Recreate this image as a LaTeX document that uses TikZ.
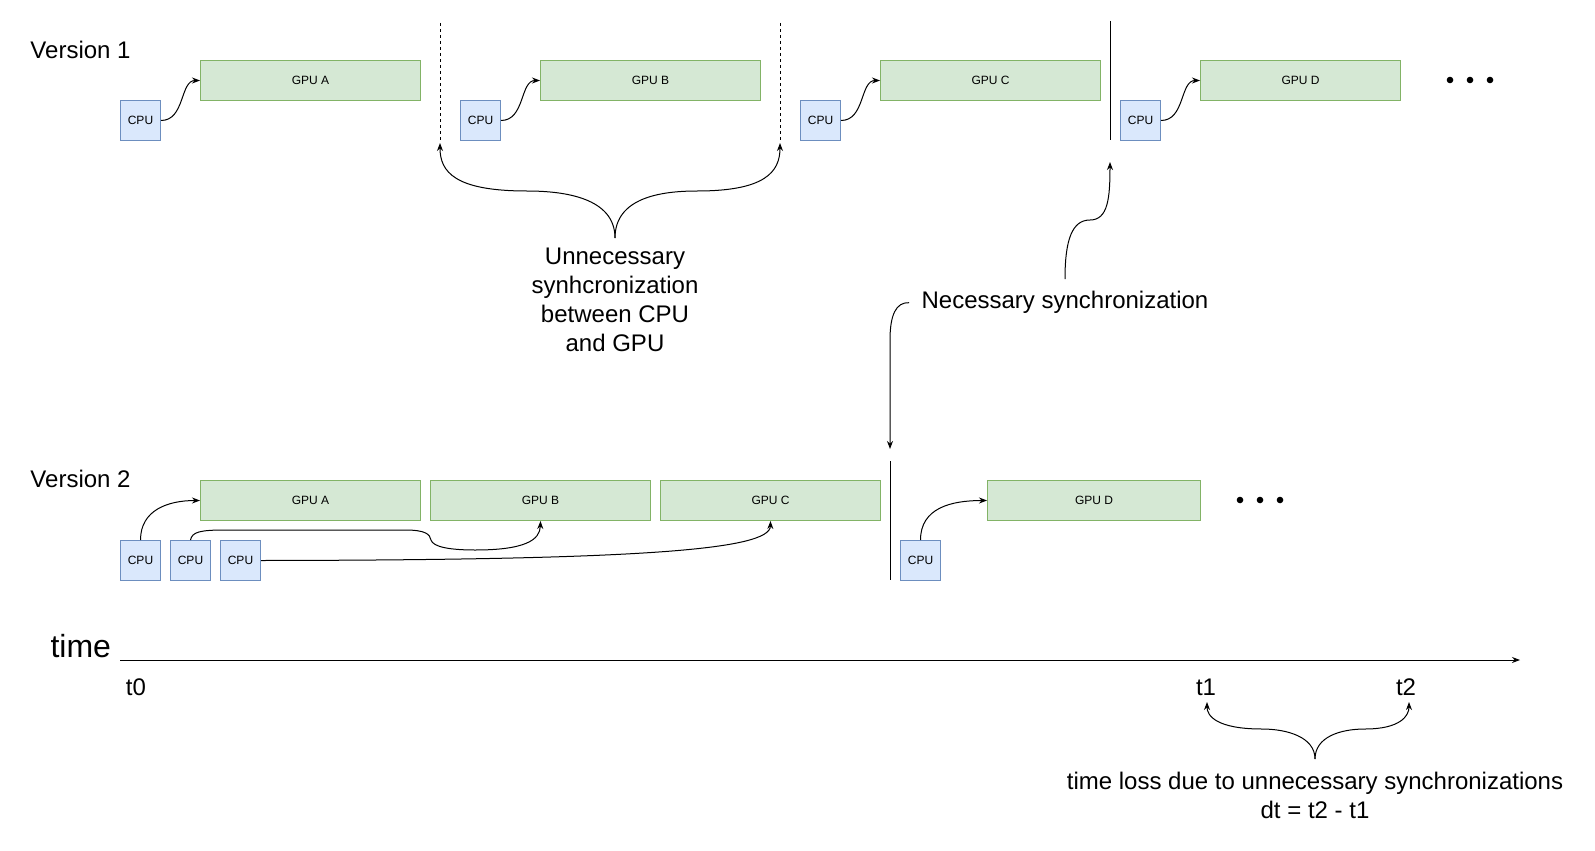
\documentclass[tikz,border=0pt]{standalone}
\usepackage{fontspec}
\setmainfont{Liberation Sans}
\usetikzlibrary{arrows.meta}
\definecolor{cpufill}{HTML}{DAE8FC}
\definecolor{cpuline}{HTML}{6C8EBF}
\definecolor{gpufill}{HTML}{D5E8D4}
\definecolor{gpuline}{HTML}{82B366}
\begin{document}
\begin{tikzpicture}[x=1pt,y=-1pt,line width=1pt,
  cpu/.style={draw=cpuline,fill=cpufill,minimum width=40pt,minimum height=40pt,inner sep=0pt,anchor=north west,font=\fontsize{12}{14}\selectfont},
  gpu/.style={draw=gpuline,fill=gpufill,minimum width=220pt,minimum height=40pt,inner sep=0pt,anchor=north west,font=\fontsize{12}{14}\selectfont},
  conn/.style={-{Stealth[length=8pt,width=6pt]},line width=1pt},
  lbl/.style={font=\fontsize{24}{29}\selectfont,align=center,inner sep=0pt},
  sepline/.style={line width=1pt},
  dotted sep/.style={line width=1pt,dash pattern=on 3pt off 3pt},
  dotmark/.style={fill=black,draw=none}]
\useasboundingbox (0,0) rectangle (1595,851);

% Version 1
\node[lbl,anchor=west] (v1) at (30,50) {Version 1};
\node[cpu] (c1a) at (120,100) {CPU};
\node[gpu] (g1a) at (200,60) {GPU A};
\node[cpu] (c1b) at (460,100) {CPU};
\node[gpu] (g1b) at (540,60) {GPU B};
\node[cpu] (c1c) at (800,100) {CPU};
\node[gpu] (g1c) at (880,60) {GPU C};
\node[cpu] (c1d) at (1120,100) {CPU};
\node[gpu,minimum width=200pt] (g1d) at (1200,60) {GPU D};
\foreach \s/\g in {c1a/g1a,c1b/g1b,c1c/g1c,c1d/g1d}
  \draw[conn] (\s.east) .. controls +(24,0) and +(-20,0) .. (\g.west);
\coordinate (d1t) at (440,23); \coordinate (d1b) at (440,140); \coordinate (d1tip) at (440,143);
\coordinate (d2t) at (780,23); \coordinate (d2b) at (780,140); \coordinate (d2tip) at (780,143);
\draw[dotted sep] (d1t) -- (d1b);
\draw[dotted sep] (d2t) -- (d2b);
\coordinate (s1t) at (1110,21); \coordinate (s1b) at (1110,140); \coordinate (s1tip) at (1110,162);
\draw[sepline] (s1t) -- (s1b);
\fill[dotmark] (1450,80) circle (3.3) (1470,80) circle (3.3) (1490,80) circle (3.3);

% Annotations
\node[lbl,anchor=north,inner ysep=9pt] (unn) at (615,238) {Unnecessary\\synhcronization\\between CPU\\and GPU};
\draw[conn] (unn.north) .. controls (615,198) and (565,191) .. (527,191) .. controls (455,191) and (440,172) .. (d1tip);
\draw[conn] (unn.north) .. controls (615,198) and (660,191) .. (697,191) .. controls (765,191) and (780,172) .. (d2tip);

\node[lbl,anchor=north,inner ysep=12pt,inner xsep=12pt] (nec) at (1065,279) {Necessary synchronization};
\draw[conn] (nec.north) .. controls (1065,240) and (1072,220) .. (1090,220) .. controls (1108,220) and (1110,198) .. (s1tip);

% Version 2
\node[lbl,anchor=west] (v2) at (30,479) {Version 2};
\node[gpu] (g2a) at (200,480) {GPU A};
\node[gpu] (g2b) at (430,480) {GPU B};
\node[gpu] (g2c) at (660,480) {GPU C};
\node[gpu,minimum width=213pt] (g2d) at (987,480) {GPU D};
\node[cpu] (c2a) at (120,540) {CPU};
\node[cpu] (c2b) at (170,540) {CPU};
\node[cpu] (c2c) at (220,540) {CPU};
\node[cpu] (c2d) at (900,540) {CPU};
\coordinate (s2t) at (890,461); \coordinate (s2b) at (890,580); \coordinate (s2tip) at (890,449);
\draw[sepline] (s2t) -- (s2b);
\draw[conn] (nec.west) .. controls (896,302) and (890,315) .. (890,340) -- (s2tip);
\draw[conn] (c2a.north) .. controls +(0,-30) and +(-32,0) .. (g2a.west);
\draw[conn] (c2b.north) .. controls (192,532) and (200,530) .. (225,530) -- (405,530)
  .. controls (425,530) and (430,534) .. (431,540) .. controls (433,547) and (450,550) .. (475,550)
  .. controls (525,550) and (540,540) .. (g2b.south);
\draw[conn] (c2c.east) .. controls (640,560) and (770,550) .. (g2c.south);
\draw[conn] (c2d.north) .. controls +(0,-32) and +(-36,0) .. (g2d.west);
\fill[dotmark] (1240,500) circle (3.3) (1260,500) circle (3.3) (1280,500) circle (3.3);

% Time axis
\node[lbl,anchor=west,font=\fontsize{32}{38}\selectfont] (time) at (50,646) {time};
\coordinate (ax0) at (120,660); \coordinate (ax1) at (1520,660);
\draw[conn] (ax0) -- (ax1);
\node[lbl] (t0) at (136,687) {t0};
\node[lbl] (t1) at (1206,687) {t1};
\node[lbl] (t2) at (1406,687) {t2};
\coordinate (t1tip) at (1207,702); \coordinate (t2tip) at (1409,702);
\node[lbl,anchor=north,inner ysep=13pt] (loss) at (1315,759) {time loss due to unnecessary synchronizations\\dt = t2 - t1};
\draw[conn] (loss.north) .. controls +(0,-22) and +(25,0) .. (1262,729) .. controls (1217,729) and (1207,716) .. (t1tip);
\draw[conn] (loss.north) .. controls +(0,-22) and +(-25,0) .. (1365,729) .. controls (1400,729) and (1409,716) .. (t2tip);
\end{tikzpicture}
\end{document}
